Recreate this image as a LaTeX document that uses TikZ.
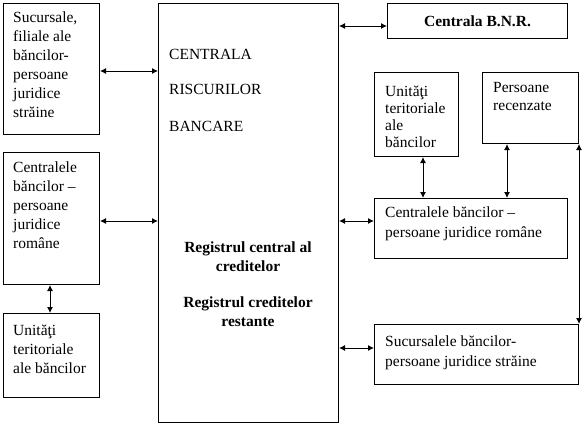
\documentclass[tikz,border=0pt]{standalone}
\usepackage{fontspec}
\setmainfont{Liberation Serif}
\usetikzlibrary{arrows.meta}
\begin{document}
\begin{tikzpicture}[x=1pt,y=-1pt,
  box/.style={draw, line width=1pt, inner sep=0pt, anchor=north west},
  txt/.style={anchor=north west, align=left, inner sep=0pt, font=\fontsize{15.5}{19}\selectfont},
  btxt/.style={anchor=north, align=center, inner sep=0pt, font=\fontsize{15.5}{19}\selectfont\bfseries},
  arr/.style={{Latex[length=6pt,width=6pt]}-{Latex[length=6pt,width=6pt]}, line width=1pt}]
\useasboundingbox (0,0) rectangle (585,426);
% boxes
\node[box, minimum width=96pt, minimum height=131pt] (ls) at (3,3) {};
\node[box, minimum width=96pt, minimum height=132pt] (lc) at (3,152) {};
\node[box, minimum width=96pt, minimum height=84pt] (lu) at (3,313) {};
\node[box, minimum width=180pt, minimum height=419pt] (main) at (158,3) {};
\node[box, minimum width=180pt, minimum height=35pt, font=\fontsize{15.5}{19}\selectfont\bfseries] (bnr) at (387,3) {Centrala B.N.R.};
\node[box, minimum width=84pt, minimum height=84pt] (ru) at (374,72) {};
\node[box, minimum width=96pt, minimum height=71pt] (rp) at (482,72) {};
\node[box, minimum width=193pt, minimum height=60pt] (rc) at (374,198) {};
\node[box, minimum width=204pt, minimum height=60pt] (rs) at (374,324) {};
% texts
\node[txt] (lst) at (13,11.5) {Sucursale,\\filiale ale\\băncilor-\\persoane\\juridice\\străine};
\node[txt] (lct) at (13,161.5) {Centralele\\băncilor –\\persoane\\juridice\\române};
\node[txt] (lut) at (13,324.5) {Unităţi\\teritoriale\\ale băncilor};
\node[txt, font=\fontsize{15.5}{17}\selectfont] (rut) at (385,85.5) {Unităţi\\teritoriale\\ale\\băncilor};
\node[txt, font=\fontsize{15.5}{18}\selectfont] (rpt) at (493,82.5) {Persoane\\recenzate};
\node[txt, font=\fontsize{15.5}{20}\selectfont] (rct) at (385,206.5) {Centralele băncilor –\\persoane juridice române};
\node[txt, font=\fontsize{15.5}{20}\selectfont] (rst) at (385,335.5) {Sucursalele băncilor-\\persoane juridice străine};
\node[txt] (m1) at (169,49) {CENTRALA};
\node[txt] (m2) at (169,84) {RISCURILOR};
\node[txt] (m3) at (169,121) {BANCARE};
\node[btxt] (reg1) at (248,241.5) {Registrul central al\\creditelor};
\node[btxt] (reg2) at (248,296.5) {Registrul creditelor\\restante};
% connectors
\draw[arr] (ls.east |- 0,71) -- (main.west |- 0,71);
\draw[arr] (lc.east |- 0,221) -- (main.west |- 0,221);
\draw[arr] (lc.south -| 50,0) -- (lu.north -| 50,0);
\draw[arr] (main.east |- 0,26) -- (bnr.west |- 0,26);
\draw[arr] (main.east |- 0,221) -- (rc.west |- 0,221);
\draw[arr] (main.east |- 0,348) -- (rs.west |- 0,348);
\draw[arr] (ru.south -| 423,0) -- (rc.north -| 423,0);
\draw[arr] (rp.south -| 507,0) -- (rc.north -| 507,0);
\draw[arr] (rp.south east) -- (rs.north east);
\end{tikzpicture}
\end{document}
